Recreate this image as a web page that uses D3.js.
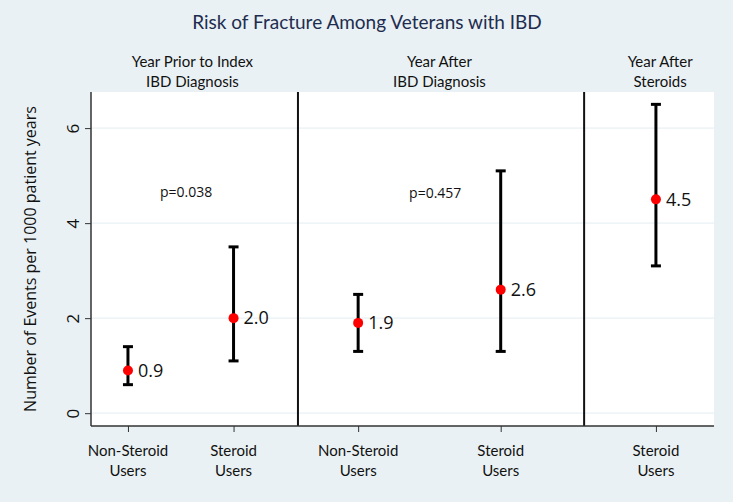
<!DOCTYPE html>
<html><head><meta charset="utf-8">
<script src="https://cdn.jsdelivr.net/npm/d3@7"></script>
<style>body{margin:0;background:#eaf1f4;}svg{display:block;font-family:Lato,"Open Sans",sans-serif;}</style>
</head><body>
<script>
// ---- data ----
const categories = [["Non-Steroid","Users"],["Steroid","Users"],["Non-Steroid","Users"],["Steroid","Users"],["Steroid","Users"]];
const xPositions = [1, 2, 3.18, 4.53, 6.0];
const rates = [0.9, 2.0, 1.9, 2.6, 4.5];
const lower = [0.6, 1.1, 1.3, 1.3, 3.1];
const upper = [1.4, 3.5, 2.5, 5.1, 6.5];
const rateLabels = ["0.9","2.0","1.9","2.6","4.5"];
const yTicks = [0, 2, 4, 6];
const separators = [2.61, 5.32];
const groupLabels = [["Year Prior to Index","IBD Diagnosis"],["Year After","IBD Diagnosis"],["Year After","Steroids"]];
const groupCenters = [1.61, 3.95, 6.04];
const pLabels = ["p=0.038","p=0.457"];
const pX = [1.55, 3.91];
const pY = [4.54, 4.53];
const title = "Risk of Fracture Among Veterans with IBD";
const yTitle = "Number of Events per 1000 patient years";

const W = 733, H = 502;
const mLeft = 91, mRight = 714, mTop = 92, mBottom = 426;
const svg = d3.select("body").append("svg").attr("width", W).attr("height", H);
svg.append("rect").attr("width", W).attr("height", H).attr("fill", "#eaf1f4");

const x = d3.scaleLinear().domain([0.65, 6.55]).range([mLeft, mRight]);
const y = d3.scaleLinear().domain([-0.27, 6.76]).range([mBottom, mTop]);

// plot area
svg.append("rect").attr("x", mLeft).attr("y", mTop).attr("width", mRight - mLeft).attr("height", mBottom - mTop).attr("fill", "#ffffff");

// gridlines
svg.append("g").selectAll("line").data(yTicks).join("line")
  .attr("x1", mLeft).attr("x2", mRight).attr("y1", d => y(d)).attr("y2", d => y(d))
  .attr("stroke", "#eaf0f3").attr("stroke-width", 1.2);

// title
svg.append("text").attr("x", 367).attr("y", 29).attr("text-anchor", "middle")
  .attr("font-size", 19).attr("fill", "#1e2d4f").text(title);

// group headers
groupLabels.forEach((lines, i) => {
  const t = svg.append("text").attr("text-anchor", "middle").attr("font-size", 15).attr("fill", "#111");
  lines.forEach((l, j) => t.append("tspan").attr("x", x(groupCenters[i])).attr("y", 67 + j * 20).text(l));
});

// separators
svg.append("g").selectAll("line").data(separators).join("line")
  .attr("x1", d => x(d)).attr("x2", d => x(d)).attr("y1", mTop).attr("y2", mBottom)
  .attr("stroke", "#111").attr("stroke-width", 2);

// y axis
const yAxis = svg.append("g").attr("transform", `translate(${mLeft},0)`)
  .call(d3.axisLeft(y).tickValues(yTicks).tickSize(6).tickFormat(d3.format("d")));
yAxis.select(".domain").attr("stroke", "#333").attr("stroke-width", 1.5).attr("d", `M0,${mTop}V${mBottom}`);
yAxis.selectAll(".tick line").attr("stroke", "#333");
yAxis.selectAll(".tick text")
  .attr("font-size", 17).attr("fill", "#111").attr("font-family", "'Open Sans',sans-serif")
  .attr("x", 0).attr("y", 0).attr("dy", "0.35em").attr("text-anchor", "middle")
  .attr("transform", "translate(-18,0) rotate(-90)");

// y title
svg.append("text").attr("transform", `translate(30,${(mTop + mBottom) / 2}) rotate(-90)`)
  .attr("text-anchor", "middle").attr("dy", "0.35em").attr("font-size", 16)
  .attr("font-family", "'Open Sans',sans-serif").attr("fill", "#111").text(yTitle);

// x axis
const xAxis = svg.append("g").attr("transform", `translate(0,${mBottom})`)
  .call(d3.axisBottom(x).tickValues(xPositions).tickSize(6).tickFormat(""));
xAxis.select(".domain").attr("stroke", "#333").attr("stroke-width", 1.5).attr("d", `M${mLeft},0H${mRight}`);
xAxis.selectAll(".tick line").attr("stroke", "#333");
categories.forEach((lines, i) => {
  const t = svg.append("text").attr("text-anchor", "middle").attr("font-size", 15).attr("fill", "#111");
  lines.forEach((l, j) => t.append("tspan").attr("x", x(xPositions[i])).attr("y", 456 + j * 20).text(l));
});

// error bars
const eb = svg.append("g").attr("stroke", "#000").attr("stroke-width", 3);
rates.forEach((r, i) => {
  const cx = x(xPositions[i]);
  eb.append("line").attr("x1", cx).attr("x2", cx).attr("y1", y(lower[i])).attr("y2", y(upper[i]));
  eb.append("line").attr("x1", cx - 5).attr("x2", cx + 5).attr("y1", y(lower[i])).attr("y2", y(lower[i]));
  eb.append("line").attr("x1", cx - 5).attr("x2", cx + 5).attr("y1", y(upper[i])).attr("y2", y(upper[i]));
});

// points
svg.append("g").selectAll("circle").data(rates).join("circle")
  .attr("cx", (d, i) => x(xPositions[i])).attr("cy", d => y(d)).attr("r", 5).attr("fill", "#ff0000");

// value labels
svg.append("g").selectAll("text").data(rates).join("text")
  .attr("x", (d, i) => x(xPositions[i]) + 10).attr("y", d => y(d)).attr("dy", "0.35em")
  .attr("font-size", 18).attr("font-family", "'Open Sans',sans-serif").attr("fill", "#111").text((d, i) => rateLabels[i]);

// p labels
svg.append("g").selectAll("text").data(pLabels).join("text")
  .attr("x", (d, i) => x(pX[i])).attr("y", (d, i) => y(pY[i])).attr("text-anchor", "middle")
  .attr("font-size", 14).attr("font-family", "'Open Sans',sans-serif").attr("fill", "#111").text(d => d);
</script>
</body></html>
